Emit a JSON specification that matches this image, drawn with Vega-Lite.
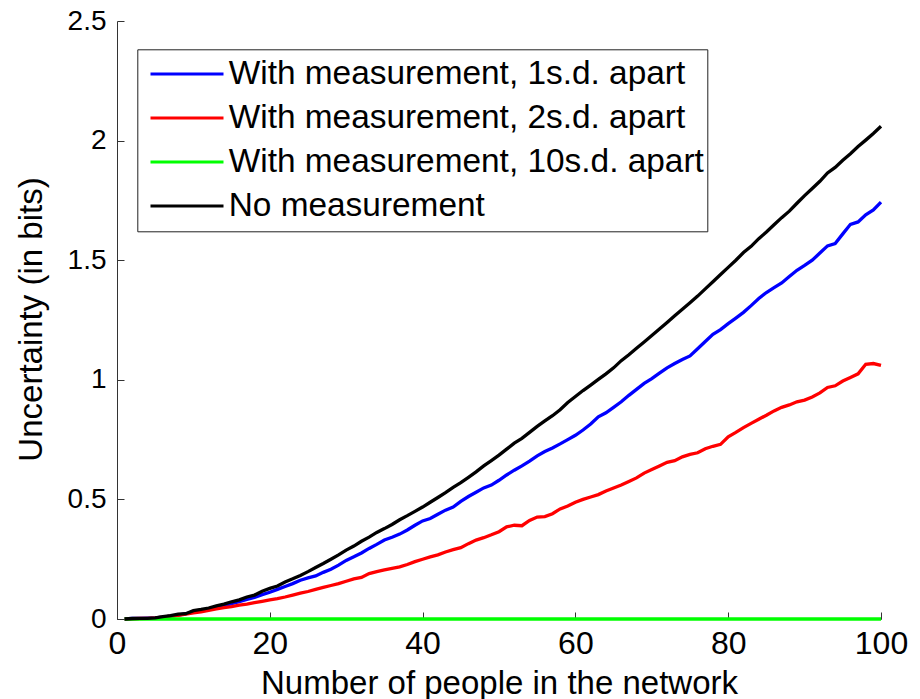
{
  "$schema": "https://vega.github.io/schema/vega-lite/v6.json",
  "width": 764,
  "height": 598,
  "autosize": {"type": "none"},
  "padding": {"left": 117, "top": 21, "right": 39, "bottom": 80},
  "background": "white",
  "config": {"view": {"stroke": null}, "font": "Liberation Sans"},
  "datasets": {
    "series": [
      {"key": "a", "name": "With measurement, 1s.d. apart"},
      {"key": "b", "name": "With measurement, 2s.d. apart"},
      {"key": "c", "name": "With measurement, 10s.d. apart"},
      {"key": "d", "name": "No measurement"}
    ]
  },
  "data": {"values": [
    {"n":1,"a":0,"b":0,"c":0,"d":0},
    {"n":2,"a":0.002,"b":0.001,"c":0,"d":0.002},
    {"n":3,"a":0.003,"b":0.002,"c":0,"d":0.003},
    {"n":4,"a":0.004,"b":0.003,"c":0,"d":0.003},
    {"n":5,"a":0.005,"b":0.005,"c":0,"d":0.005},
    {"n":6,"a":0.008,"b":0.008,"c":0,"d":0.01},
    {"n":7,"a":0.012,"b":0.012,"c":0,"d":0.014},
    {"n":8,"a":0.016,"b":0.015,"c":0,"d":0.02},
    {"n":9,"a":0.022,"b":0.02,"c":0,"d":0.022},
    {"n":10,"a":0.03,"b":0.026,"c":0,"d":0.035},
    {"n":11,"a":0.035,"b":0.03,"c":0,"d":0.04},
    {"n":12,"a":0.04,"b":0.036,"c":0,"d":0.046},
    {"n":13,"a":0.048,"b":0.042,"c":0,"d":0.055},
    {"n":14,"a":0.055,"b":0.048,"c":0,"d":0.062},
    {"n":15,"a":0.064,"b":0.052,"c":0,"d":0.072},
    {"n":16,"a":0.072,"b":0.058,"c":0,"d":0.08},
    {"n":17,"a":0.082,"b":0.062,"c":0,"d":0.092},
    {"n":18,"a":0.09,"b":0.068,"c":0,"d":0.1},
    {"n":19,"a":0.102,"b":0.074,"c":0,"d":0.116},
    {"n":20,"a":0.112,"b":0.08,"c":0,"d":0.128},
    {"n":21,"a":0.124,"b":0.085,"c":0,"d":0.138},
    {"n":22,"a":0.136,"b":0.092,"c":0,"d":0.155},
    {"n":23,"a":0.148,"b":0.1,"c":0,"d":0.168},
    {"n":24,"a":0.162,"b":0.108,"c":0,"d":0.182},
    {"n":25,"a":0.172,"b":0.115,"c":0,"d":0.198},
    {"n":26,"a":0.18,"b":0.124,"c":0,"d":0.215},
    {"n":27,"a":0.195,"b":0.132,"c":0,"d":0.232},
    {"n":28,"a":0.208,"b":0.14,"c":0,"d":0.25},
    {"n":29,"a":0.225,"b":0.148,"c":0,"d":0.268},
    {"n":30,"a":0.245,"b":0.158,"c":0,"d":0.288},
    {"n":31,"a":0.26,"b":0.168,"c":0,"d":0.305},
    {"n":32,"a":0.276,"b":0.174,"c":0,"d":0.325},
    {"n":33,"a":0.295,"b":0.19,"c":0,"d":0.342},
    {"n":34,"a":0.312,"b":0.198,"c":0,"d":0.362},
    {"n":35,"a":0.33,"b":0.205,"c":0,"d":0.378},
    {"n":36,"a":0.342,"b":0.212,"c":0,"d":0.395},
    {"n":37,"a":0.355,"b":0.218,"c":0,"d":0.415},
    {"n":38,"a":0.372,"b":0.228,"c":0,"d":0.432},
    {"n":39,"a":0.392,"b":0.24,"c":0,"d":0.45},
    {"n":40,"a":0.41,"b":0.25,"c":0,"d":0.468},
    {"n":41,"a":0.42,"b":0.26,"c":0,"d":0.488},
    {"n":42,"a":0.438,"b":0.268,"c":0,"d":0.508},
    {"n":43,"a":0.455,"b":0.28,"c":0,"d":0.528},
    {"n":44,"a":0.468,"b":0.29,"c":0,"d":0.55},
    {"n":45,"a":0.492,"b":0.298,"c":0,"d":0.57},
    {"n":46,"a":0.512,"b":0.315,"c":0,"d":0.592},
    {"n":47,"a":0.53,"b":0.33,"c":0,"d":0.615},
    {"n":48,"a":0.548,"b":0.34,"c":0,"d":0.64},
    {"n":49,"a":0.56,"b":0.352,"c":0,"d":0.662},
    {"n":50,"a":0.58,"b":0.365,"c":0,"d":0.685},
    {"n":51,"a":0.602,"b":0.385,"c":0,"d":0.71},
    {"n":52,"a":0.622,"b":0.392,"c":0,"d":0.735},
    {"n":53,"a":0.64,"b":0.39,"c":0,"d":0.755},
    {"n":54,"a":0.66,"b":0.412,"c":0,"d":0.78},
    {"n":55,"a":0.682,"b":0.426,"c":0,"d":0.805},
    {"n":56,"a":0.7,"b":0.428,"c":0,"d":0.828},
    {"n":57,"a":0.715,"b":0.44,"c":0,"d":0.85},
    {"n":58,"a":0.732,"b":0.46,"c":0,"d":0.875},
    {"n":59,"a":0.75,"b":0.472,"c":0,"d":0.905},
    {"n":60,"a":0.768,"b":0.488,"c":0,"d":0.93},
    {"n":61,"a":0.79,"b":0.5,"c":0,"d":0.955},
    {"n":62,"a":0.815,"b":0.51,"c":0,"d":0.978},
    {"n":63,"a":0.845,"b":0.52,"c":0,"d":1.002},
    {"n":64,"a":0.862,"b":0.535,"c":0,"d":1.025},
    {"n":65,"a":0.885,"b":0.548,"c":0,"d":1.05},
    {"n":66,"a":0.908,"b":0.56,"c":0,"d":1.08},
    {"n":67,"a":0.935,"b":0.575,"c":0,"d":1.105},
    {"n":68,"a":0.96,"b":0.59,"c":0,"d":1.132},
    {"n":69,"a":0.985,"b":0.61,"c":0,"d":1.158},
    {"n":70,"a":1.005,"b":0.625,"c":0,"d":1.185},
    {"n":71,"a":1.028,"b":0.64,"c":0,"d":1.212},
    {"n":72,"a":1.05,"b":0.655,"c":0,"d":1.24},
    {"n":73,"a":1.068,"b":0.662,"c":0,"d":1.268},
    {"n":74,"a":1.085,"b":0.678,"c":0,"d":1.295},
    {"n":75,"a":1.1,"b":0.688,"c":0,"d":1.322},
    {"n":76,"a":1.13,"b":0.695,"c":0,"d":1.35},
    {"n":77,"a":1.16,"b":0.712,"c":0,"d":1.38},
    {"n":78,"a":1.19,"b":0.722,"c":0,"d":1.41},
    {"n":79,"a":1.21,"b":0.73,"c":0,"d":1.44},
    {"n":80,"a":1.235,"b":0.762,"c":0,"d":1.47},
    {"n":81,"a":1.258,"b":0.78,"c":0,"d":1.5},
    {"n":82,"a":1.282,"b":0.8,"c":0,"d":1.532},
    {"n":83,"a":1.31,"b":0.818,"c":0,"d":1.558},
    {"n":84,"a":1.34,"b":0.835,"c":0,"d":1.59},
    {"n":85,"a":1.365,"b":0.852,"c":0,"d":1.618},
    {"n":86,"a":1.385,"b":0.87,"c":0,"d":1.648},
    {"n":87,"a":1.405,"b":0.885,"c":0,"d":1.678},
    {"n":88,"a":1.432,"b":0.895,"c":0,"d":1.705},
    {"n":89,"a":1.458,"b":0.908,"c":0,"d":1.738},
    {"n":90,"a":1.478,"b":0.915,"c":0,"d":1.77},
    {"n":91,"a":1.5,"b":0.928,"c":0,"d":1.8},
    {"n":92,"a":1.53,"b":0.945,"c":0,"d":1.83},
    {"n":93,"a":1.56,"b":0.968,"c":0,"d":1.865},
    {"n":94,"a":1.57,"b":0.975,"c":0,"d":1.888},
    {"n":95,"a":1.61,"b":0.995,"c":0,"d":1.918},
    {"n":96,"a":1.65,"b":1.01,"c":0,"d":1.945},
    {"n":97,"a":1.66,"b":1.025,"c":0,"d":1.975},
    {"n":98,"a":1.69,"b":1.065,"c":0,"d":2.002},
    {"n":99,"a":1.71,"b":1.068,"c":0,"d":2.03},
    {"n":100,"a":1.743,"b":1.06,"c":0,"d":2.06}
  ]},
  "transform": [
    {"fold": ["a", "b", "c", "d"], "as": ["key", "v"]},
    {"lookup": "key", "from": {"data": {"name": "series"}, "key": "key", "fields": ["name"]}}
  ],
  "mark": {"type": "line", "strokeWidth": 3.3, "clip": false},
  "encoding": {
    "x": {
      "field": "n", "type": "quantitative",
      "scale": {"domain": [0, 100], "nice": false},
      "axis": {
        "values": [0, 20, 40, 60, 80, 100],
        "title": "Number of people in the network",
        "titleFontSize": 33, "titleFontWeight": "normal", "titleColor": "black",
        "titleBaseline": "alphabetic", "titleY": 74, "titleX": 382,
        "labelFontSize": 32, "labelColor": "black", "labelFlush": false,
        "tickSize": -7, "labelPadding": 16,
        "grid": false, "domainColor": "#333", "tickColor": "#333"
      }
    },
    "y": {
      "field": "v", "type": "quantitative",
      "scale": {"domain": [0, 2.5], "nice": false},
      "axis": {
        "values": [0, 0.5, 1, 1.5, 2, 2.5], "format": "~g",
        "title": "Uncertainty (in bits)",
        "titleFontSize": 33, "titleFontWeight": "normal", "titleColor": "black",
        "titleAngle": -90, "titleX": -76, "titleY": 298, "titleBaseline": "alphabetic", "titleAlign": "center",
        "labelFontSize": 28, "labelColor": "black", "labelFlush": false,
        "tickSize": -7, "labelPadding": 18,
        "grid": false, "domainColor": "#333", "tickColor": "#333"
      }
    },
    "color": {
      "field": "name", "type": "nominal",
      "scale": {
        "domain": ["With measurement, 1s.d. apart", "With measurement, 2s.d. apart", "With measurement, 10s.d. apart", "No measurement"],
        "range": ["#0000ff", "#ff0000", "#00ff00", "#000000"]
      },
      "legend": {
        "orient": "none", "legendX": 20.3, "legendY": 28.3, "title": null,
        "symbolType": "stroke", "symbolSize": 5329, "symbolStrokeWidth": 3,
        "clipHeight": 43.5, "rowPadding": 0, "padding": 3,
        "labelFontSize": 33.4, "labelColor": "black", "labelLimit": 0,
        "labelOffset": 3.7, "symbolOffset": 8.7,
        "labelExpr": "datum.label + ' '",
        "strokeColor": "#222", "fillColor": "white"
      }
    }
  }
}
